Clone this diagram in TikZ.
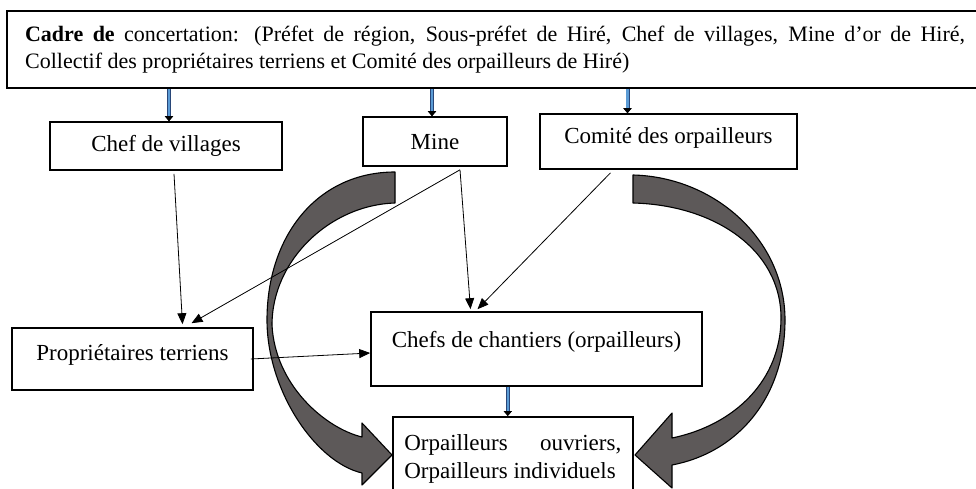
\documentclass[tikz,border=0pt]{standalone}
\usepackage{fontspec}
\setmainfont{Liberation Serif}
\usetikzlibrary{arrows.meta}
\definecolor{feedblue}{RGB}{91,155,213}
\definecolor{feeddark}{RGB}{40,70,120}
\definecolor{bendgray}{RGB}{93,89,89}
\newcommand{\boxfont}{\fontsize{23}{28}\selectfont}
\newcommand{\headfont}{\fontsize{22}{26.5}\selectfont}

\begin{document}
\begin{tikzpicture}[x=1pt,y=-1pt,
	box/.style={draw,line width=1.6pt,fill=white,inner sep=0pt,font=\boxfont},
	link/.style={line width=0.8pt,-{Triangle[length=11pt,width=9pt]}},
	feed/.style={line width=2.2pt,draw=feedblue,preaction={draw=feeddark,line width=4pt},-{Triangle[length=5pt,width=8pt,black]}},
	swoop/.style={draw=black,line width=1.1pt,fill=bendgray,line join=round}]
	\useasboundingbox (0,0) rectangle (976,489);
	% big curved arrows
	\filldraw[swoop] (395,172) .. controls (318,172) and (267,235) .. (267,320)
		.. controls (267,390) and (315,462) .. (362,473) -- (362,485) -- (392,455) -- (362,423) -- (362,437)
		.. controls (325,428) and (275,385) .. (272,325) .. controls (272,260) and (330,205) .. (395,203) -- cycle;
	\filldraw[swoop] (633,175) .. controls (715,177) and (785,240) .. (785,320)
		.. controls (785,395) and (740,452) .. (672,465) -- (672,488) -- (635,455) -- (672,413) -- (672,438)
		.. controls (735,425) and (781,380) .. (781,318) .. controls (781,250) and (715,205) .. (633,203) -- cycle;
	% boxes
	\node[box,anchor=north west,text width=940pt,inner xsep=18pt,minimum height=77pt,align=justify,font=\headfont,line width=2.2pt] (cadre) at (6,10)
		{\textbf{Cadre de} concertation: (Préfet de région, Sous-préfet de Hiré, Chef de villages, Mine d’or de Hiré,\linebreak Collectif des propriétaires terriens et Comité des orpailleurs de Hiré)};
	\node[box,minimum width=232pt,minimum height=48pt] (villages) at (166,146) {Chef de villages};
	\node[box,minimum width=144pt,minimum height=49pt] (mine) at (435,141.5) {Mine};
	\node[box,minimum width=257pt,minimum height=55pt,text depth=12pt] (comite) at (668.5,141.5) {Comité des orpailleurs};
	\node[box,minimum width=241pt,minimum height=62pt,text depth=13pt] (proprio) at (132.5,359) {Propriétaires terriens};
	\node[box,minimum width=331pt,minimum height=74pt,text depth=19pt] (chantiers) at (536.5,349) {Chefs de chantiers (orpailleurs)};
	\node[box,anchor=north west,minimum width=240pt,minimum height=84pt,text width=217pt,align=justify] (ouvriers) at (392,416)
		{Orpailleurs ouvriers, Orpailleurs individuels};
	% links
	\draw[feed] ([xshift=3pt]villages.north |- cadre.south) -- ([xshift=3pt]villages.north);
	\draw[feed] ([xshift=-3pt]mine.north |- cadre.south) -- ([xshift=-3pt]mine.north);
	\draw[feed] ([xshift=-41pt]comite.north |- cadre.south) -- ([xshift=-41pt]comite.north);
	\draw[feed] ([xshift=-5pt]ouvriers.north |- chantiers.south) -- ([xshift=-5pt]ouvriers.north);
	\draw[link] ([xshift=8pt,yshift=-3pt]villages.south) -- ([xshift=50pt,yshift=3pt]proprio.north);
	\draw[link] ([xshift=25pt,yshift=-3pt]mine.south) -- ([xshift=59pt,yshift=4pt]proprio.north);
	\draw[link] ([xshift=25pt,yshift=-3pt]mine.south) -- ([xshift=-66pt,yshift=2pt]chantiers.north);
	\draw[link] ([xshift=-58pt,yshift=-3pt]comite.south) -- ([xshift=-59pt,yshift=2pt]chantiers.north);
	\draw[link] ([xshift=-3pt]proprio.east) -- ([yshift=-4pt]chantiers.west);
\end{tikzpicture}
\end{document}
